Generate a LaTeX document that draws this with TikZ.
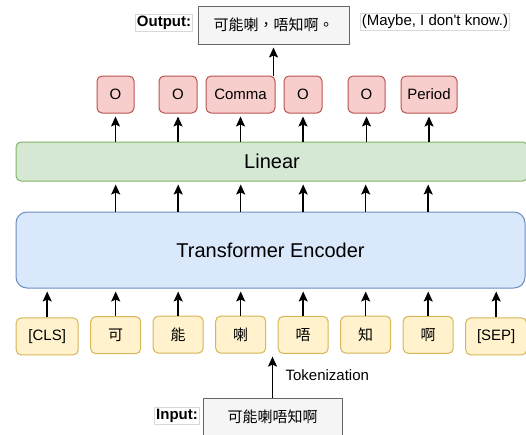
\documentclass[tikz,border=0pt]{standalone}
\usepackage{fontspec}
\setmainfont{Liberation Sans}
\newfontfamily\cjk{Noto Sans CJK TC}
\usepackage{tikz}
\usetikzlibrary{matrix,arrows.meta}

\definecolor{tokfill}{HTML}{FFF2CC}
\definecolor{tokline}{HTML}{D6B656}
\definecolor{tagfill}{HTML}{F8CECC}
\definecolor{tagline}{HTML}{B85450}
\definecolor{linfill}{HTML}{D5E8D4}
\definecolor{linline}{HTML}{82B366}
\definecolor{encfill}{HTML}{DAE8FC}
\definecolor{encline}{HTML}{6C8EBF}
\definecolor{txtfill}{HTML}{F5F5F5}
\definecolor{txtline}{HTML}{666666}

\begin{document}
\begin{tikzpicture}[x=1pt, y=-1pt, font=\fontsize{15}{18}\selectfont,
  tok/.style={draw=tokline, fill=tokfill, rounded corners=5pt, line width=1pt, minimum height=37pt, minimum width=50pt, inner sep=2pt},
  tag/.style={draw=tagline, fill=tagfill, rounded corners=5pt, line width=1pt, minimum height=37pt, minimum width=37pt, inner sep=2pt},
  txtbox/.style={draw=txtline, fill=txtfill, line width=1pt, minimum height=38pt},
  caption/.style={draw=black!15, line width=0.6pt, inner sep=1.5pt},
  >={Stealth[length=10pt,width=9pt,inset=2pt]},
  arr/.style={->, line width=1.5pt, shorten >=3pt}]
 \useasboundingbox (0,0) rectangle (526,434);

 % token row
 \matrix (t) [matrix of nodes, column sep=11.5pt, inner sep=0pt, anchor=west, nodes={tok}] at (15.5,335.5)
  {
    |[minimum width=62pt]| {[CLS]} & \cjk 可 & \cjk 能 & \cjk 喇 & \cjk 唔 & \cjk 知 & \cjk 啊 & |[minimum width=61pt]| {[SEP]} \\
  };

 \node (enc) [draw=encline, fill=encfill, line width=1pt, rounded corners=11pt, minimum width=509pt, minimum height=76pt, font=\fontsize{20}{24}\selectfont] at (270.5,250) {Transformer Encoder};
 \node (lin) [draw=linline, fill=linfill, line width=1pt, rounded corners=5pt, minimum width=512pt, minimum height=39pt, font=\fontsize{20}{24}\selectfont] at (272,161.5) {Linear};

 % tags
 \node (o1) [tag] at (115.5,94.5) {O};
 \node (o2) [tag, minimum width=38pt] at (178,94.5) {O};
 \node (com) [tag, minimum width=69pt] at (240.5,94.5) {Comma};
 \node (o3) [tag, minimum width=38pt] at (303,94.5) {O};
 \node (o4) [tag] at (366.5,94.5) {O};
 \node (per) [tag, minimum width=56pt] at (429,94.5) {Period};

 \node (out) [txtbox, minimum width=151pt] at (273.5,25) {\cjk 可能喇，唔知啊。};
 \node (outlab) [caption] at (164,23) {\textbf{Output:}};
 \node (mean) [caption] at (435,22) {(Maybe, I don\textquotesingle t know.)};

 \node (in) [txtbox, minimum width=139pt] at (272.5,417) {\cjk 可能喇唔知啊};
 \node (inlab) [caption] at (177,416) {\textbf{Input:}};

 \path[arr]
  (t-1-1.north) edge (t-1-1.north |- enc.south)
  (t-1-2.north) edge (t-1-2.north |- enc.south)
  (t-1-3.north) edge (t-1-3.north |- enc.south)
  (t-1-4.north) edge (t-1-4.north |- enc.south)
  (t-1-5.north) edge (t-1-5.north |- enc.south)
  (t-1-6.north) edge (t-1-6.north |- enc.south)
  (t-1-7.north) edge (t-1-7.north |- enc.south)
  (t-1-8.north) edge (t-1-8.north |- enc.south)
  (t-1-2.north |- enc.north) edge (t-1-2.north |- lin.south)
  (t-1-3.north |- enc.north) edge (t-1-3.north |- lin.south)
  (t-1-4.north |- enc.north) edge (t-1-4.north |- lin.south)
  (t-1-5.north |- enc.north) edge (t-1-5.north |- lin.south)
  (t-1-6.north |- enc.north) edge (t-1-6.north |- lin.south)
  (t-1-7.north |- enc.north) edge (t-1-7.north |- lin.south)
  (o1.south |- lin.north) edge (o1.south)
  (o2.south |- lin.north) edge (o2.south)
  (com.south |- lin.north) edge (com.south)
  (o3.south |- lin.north) edge (o3.south)
  (o4.south |- lin.north) edge (o4.south)
  (per.south |- lin.north) edge (per.south)
  (out.south |- com.north) edge (out.south)
  (in) edge node [right, xshift=9pt] {Tokenization} (in.north |- t-1-4.south)
;
\end{tikzpicture}
\end{document}
